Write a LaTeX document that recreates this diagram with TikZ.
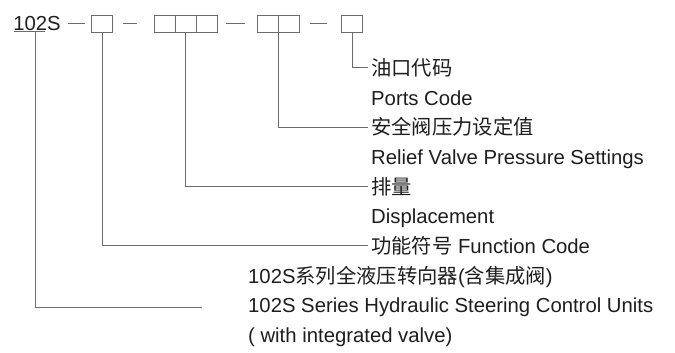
\documentclass[tikz,border=0pt]{standalone}
\usepackage{fontspec}
\setmainfont{Liberation Sans}
\newfontfamily\cjk{Noto Sans CJK SC}
\usetikzlibrary{positioning}
\definecolor{ink}{HTML}{1E1E1E}
\definecolor{rule}{HTML}{6B6B6B}

\begin{document}
\begin{tikzpicture}[
  x=1pt,y=-1pt,
  code/.style={font=\fontsize{20.3}{24}\selectfont,text=ink,inner sep=1pt},
  slot/.style={draw=rule,line width=0.8pt,minimum width=21pt,minimum height=17pt,inner sep=0pt,outer sep=0pt},
  lbl/.style={anchor=base west,font=\fontsize{20.3}{24}\selectfont,text=ink,inner xsep=3pt,inner ysep=0pt},
  lead/.style={draw=rule,line width=0.8pt},
  sep/.style={draw=rule,line width=0.9pt}
]
\useasboundingbox (0,0) rectangle (675,353);
\node[code] (n0) at (37,23.5) {102S};
\node[slot] (b1) at (102,23.5) {};
\node[slot] (b2a) at (164.5,23.5) {};
\node[slot,right=0pt of b2a] (b2b) {};
\node[slot,right=0pt of b2b] (b2c) {};
\node[slot] (b3a) at (267.5,23.5) {};
\node[slot,right=0pt of b3a] (b3b) {};
\node[slot] (b4) at (352,23.5) {};
\draw[sep,shorten <=5.7pt,shorten >=6.5pt] (n0.east) -- (b1.west);
\draw[sep,shorten <=10.5pt,shorten >=17pt] (b1.east) -- (b2a.west);
\draw[sep,shorten <=9pt,shorten >=12pt] (b2c.east) -- (b3a.west);
\draw[sep,shorten <=11pt,shorten >=15pt] (b3b.east) -- (b4.west);

\node[lbl] (port) at (368,75.3) {\cjk 油口代码};
\node[lbl] (porten) at (368,105) {Ports Code};
\node[lbl] (relief) at (368,134.7) {\cjk 安全阀压力设定值};
\node[lbl] (reliefen) at (368,164.4) {Relief Valve Pressure Settings};
\node[lbl] (disp) at (368,194.1) {\cjk 排量};
\node[lbl] (dispen) at (368,223.8) {Displacement};
\node[lbl] (func) at (368,253.5) {{\cjk 功能符号} Function Code};
\node[lbl] (series) at (245,283.2) {102S{\cjk 系列全液压转向器}({\cjk 含集成阀})};
\node[lbl] (seriesen) at (245,312.9) {102S Series Hydraulic Steering Control Units};
\node[lbl] (seriesnote) at (245,342.6) {( with integrated valve)};

\draw[lead] (b4.south) |- (port.west);
\draw[lead] (b3a.south east) |- (relief.west);
\draw[lead] (b2b.south) |- (disp.west);
\draw[lead] (b1.south) |- (func.west);
\coordinate (t0) at ([xshift=-43pt]seriesen.west);
\draw[lead] ([xshift=2pt]n0.south west) -- coordinate[pos=0.7] (u0) ([xshift=-17pt]n0.south east);
\draw[lead] (u0) |- (t0);
\end{tikzpicture}
\end{document}
